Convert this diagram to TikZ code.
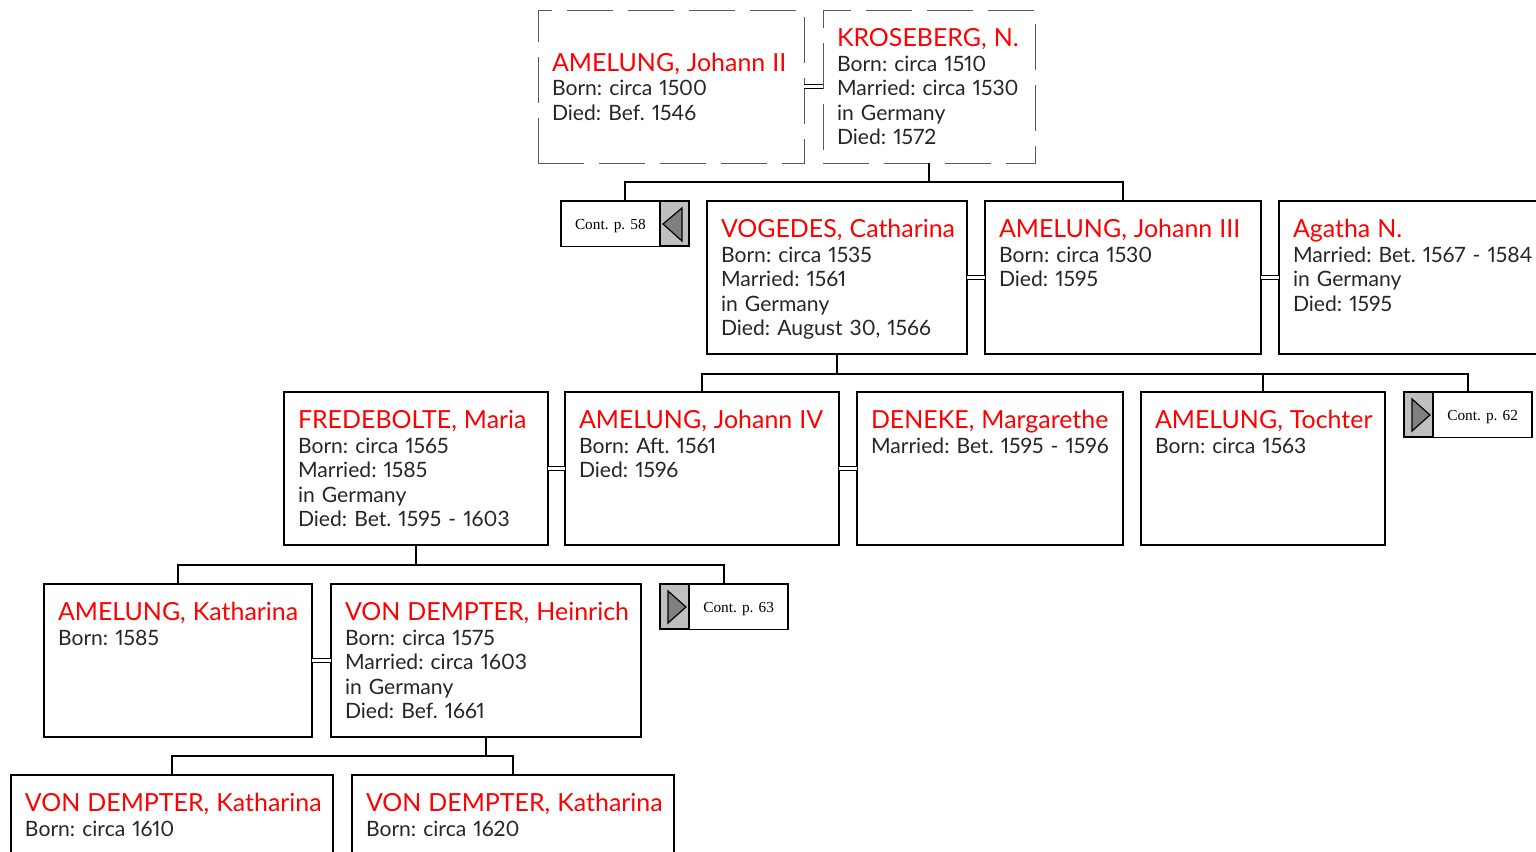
\documentclass[tikz,border=0pt]{standalone}
\usepackage{fontspec}
\setmainfont{Lato}[WordSpace=0.8,Numbers=Proportional]
\newfontfamily\contfont{Liberation Serif}
\frenchspacing
\newcommand{\pname}[1]{{\fontsize{18.7}{18.4}\selectfont\color{red}#1}\\}
\tikzset{
	person/.style={
		draw,
		rectangle,
		anchor=north west,
		align=left,
		inner xsep=0pt,
		inner ysep=0pt,
		outer sep=0pt,
		text width={#1*0.75pt},
		execute at begin node={\leftskip=10.5pt},
		text height=27.6pt,
		text depth=87.15pt,
		font=\fontsize{15.85}{18.4}\selectfont,
		text=black!85,
	},
	possibly/.style={
		draw=black!65,
		line width=0.7pt,
		dash pattern=on 34.5pt off 11.25pt,
	},
	lowered/.style={
		text height=45.8pt,
		text depth=68.95pt,
	},
	couple/.style={
		double,
		double distance=2.6pt,
		line width=0.8pt,
	},
	contbox/.style={
		draw,
		rectangle,
		anchor=north west,
		inner xsep=10.5pt,
		inner ysep=0pt,
		outer sep=0pt,
		text width=75pt,
		text height=10.2pt,
		text depth=2pt,
		minimum height=34pt,
		font=\contfont\fontsize{11.5}{13}\selectfont,
	},
	contcell/.style={
		draw,
		rectangle,
		fill=black!25,
		line width=1.5pt,
		minimum width=22pt,
		minimum height=34pt,
		inner sep=0pt,
		outer sep=0pt,
	},
	contmark/.style={
		draw,
		fill=black!50,
		line width=0.9pt,
	},
}
\begin{document}
\begin{tikzpicture}[x=0.75pt,y=-0.75pt,line width=1.2pt]
	\useasboundingbox (0,0) rectangle (1536,851);
	\clip (0,0) rectangle (1536,851);

	\node[person=266,possibly,lowered] (johannii) at (538,10) {\pname{AMELUNG, Johann II}Born: circa 1500\\Died: Bef. 1546};
	\node[person=212,possibly] (kroseberg) at (823,10) {\pname{KROSEBERG, N.}Born: circa 1510\\Married: circa 1530\\in Germany\\Died: 1572};

	\node[contbox,align=left] (cont58) at (561,201) {Cont. p. 58};
	\node[contcell,anchor=north east] (cont58cell) at (cont58.north east) {};
	\node[person=260] (vogedes) at (707,201) {\pname{VOGEDES, Catharina}Born: circa 1535\\Married: 1561\\in Germany\\Died: August 30, 1566};
	\node[person=276] (johanniii) at (985,201) {\pname{AMELUNG, Johann III}Born: circa 1530\\Died: 1595};
	\node[person=270] (agatha) at (1279,201) {\pname{Agatha N.}Married: Bet. 1567 - 1584\\in Germany\\Died: 1595};

	\node[person=264] (fredebolte) at (284,392) {\pname{FREDEBOLTE, Maria}Born: circa 1565\\Married: 1585\\in Germany\\Died: Bet. 1595 - 1603};
	\node[person=274] (johanniv) at (565,392) {\pname{AMELUNG, Johann IV}Born: Aft. 1561\\Died: 1596};
	\node[person=266] (deneke) at (857,392) {\pname{DENEKE, Margarethe}Married: Bet. 1595 - 1596};
	\node[person=244] (tochter) at (1141,392) {\pname{AMELUNG, Tochter}Born: circa 1563};
	\node[contbox,align=right] (cont62) at (1404,392) {Cont. p. 62};
	\node[contcell,anchor=north west] (cont62cell) at (cont62.north west) {};

	\node[person=268] (katharina) at (44,584) {\pname{AMELUNG, Katharina}Born: 1585};
	\node[person=310] (heinrich) at (331,584) {\pname{VON DEMPTER, Heinrich}Born: circa 1575\\Married: circa 1603\\in Germany\\Died: Bef. 1661};
	\node[contbox,align=right] (cont63) at (660,584) {Cont. p. 63};
	\node[contcell,anchor=north west] (cont63cell) at (cont63.north west) {};

	\node[person=322] (katharinaa) at (11,775) {\pname{VON DEMPTER, Katharina}Born: circa 1610};
	\node[person=322] (katharinab) at (352,775) {\pname{VON DEMPTER, Katharina}Born: circa 1620};

	\draw[contmark] (663,224) -- (682,208) -- (682,241) -- cycle;
	\draw[contmark] (1430,415) -- (1412,399) -- (1412,431) -- cycle;
	\draw[contmark] (686,607) -- (668,591) -- (668,623) -- cycle;

%%%

	\draw[couple] (johannii.east) -- (kroseberg.west);
	\draw[couple] (vogedes.east) -- (johanniii.west);
	\draw[couple] (johanniii.east) -- (agatha.west);
	\draw[couple] (fredebolte.east) -- (johanniv.west);
	\draw[couple] (johanniv.east) -- (deneke.west);
	\draw[couple] (katharina.east) -- (heinrich.west);

	\coordinate (barone) at (kroseberg.south |- 0,182);
	\coordinate (bartwo) at (vogedes.south |- 0,374);
	\coordinate (barthree) at (fredebolte.south |- 0,565);
	\coordinate (barfour) at (heinrich.south |- 0,756);

	\draw (kroseberg.south) -- (barone);
	\draw (barone) -| (cont58.north);
	\draw (barone) -| (johanniii.north);

	\draw (vogedes.south) -- (bartwo);
	\draw (bartwo) -| (johanniv.north);
	\draw (bartwo) -| (tochter.north);
	\draw (bartwo) -| (cont62.north);

	\draw (fredebolte.south) -- (barthree);
	\draw (barthree) -| (katharina.north);
	\draw (barthree) -| (cont63.north);

	\draw (heinrich.south) -- (barfour);
	\draw (barfour) -| (katharinaa.north);
	\draw (barfour) -| (katharinab.north);
\end{tikzpicture}
\end{document}
